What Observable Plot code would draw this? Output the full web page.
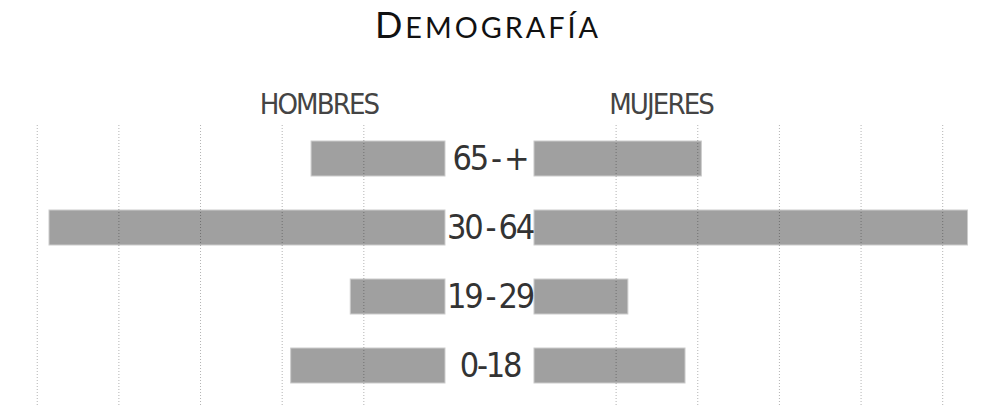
<!DOCTYPE html>
<html><head><meta charset="utf-8">
<script src="https://cdn.jsdelivr.net/npm/d3@7"></script>
<script src="https://cdn.jsdelivr.net/npm/@observablehq/plot@0.6"></script>
<style>
body{margin:0;background:#fff;}
#title{height:60px;box-sizing:border-box;padding-top:2.5px;padding-right:13px;text-align:center;font-family:Lato,sans-serif;font-size:36px;line-height:42px;color:#111;letter-spacing:3px;white-space:nowrap;}
#title span{font-size:0.8em}
#chart g[aria-label="text"] text{letter-spacing:-0.065em;word-spacing:-0.1em;}
</style></head><body>
<div id="title">D<span>EMOGRAFÍA</span></div>
<div id="chart"></div>
<script>
const ageGroups = ["65 - +", "30 - 64", "19 - 29", "0-18"];
const hombres = [16.4, 48.5, 11.6, 18.9];
const mujeres = [20.5, 53.1, 11.5, 18.5];
const sexes = ["HOMBRES", "MUJERES"];
const gridTicks = [10, 20, 30, 40, 50];

const GAP = 5.45; // half of the central gap, in value units
const side = s => (s === "HOMBRES" ? -1 : 1);
const rows = ageGroups.flatMap((g, i) => [
  {age: g, sexo: "HOMBRES", v: hombres[i]},
  {age: g, sexo: "MUJERES", v: mujeres[i]}
]);
const gridValues = gridTicks.flatMap(t => [-(GAP + t), GAP + t]);
const condensed = "'DejaVu Sans Condensed', 'Liberation Sans Narrow', sans-serif";

const chart = Plot.plot({
  width: 989,
  height: 346,
  marginTop: 65, marginBottom: 0, marginLeft: 0, marginRight: 0,
  x: {domain: [-59.95, 61.18], axis: null},
  y: {domain: ageGroups, range: [46.5, 357], padding: 0.5, axis: null},
  marks: [
    Plot.barX(rows, {
      y: "age",
      x1: d => side(d.sexo) * GAP,
      x2: d => side(d.sexo) * (GAP + d.v),
      fill: "#a0a0a0", stroke: "#cccccc", strokeWidth: 1
    }),
    Plot.ruleX(gridValues, {stroke: "#000", strokeOpacity: 0.3, strokeDasharray: "1,2"}),
    Plot.text(ageGroups, {
      y: d => d, x: () => 0, text: d => d,
      fontSize: 34, fontFamily: condensed, fill: "#333"
    }),
    Plot.text(sexes, {
      x: d => side(d) * (GAP + 15.5), text: d => d,
      frameAnchor: "top", lineAnchor: "bottom", dy: -12,
      fontSize: 29, fontFamily: condensed, fill: "#444"
    })
  ]
});
document.getElementById("chart").appendChild(chart);
</script>
</body></html>
